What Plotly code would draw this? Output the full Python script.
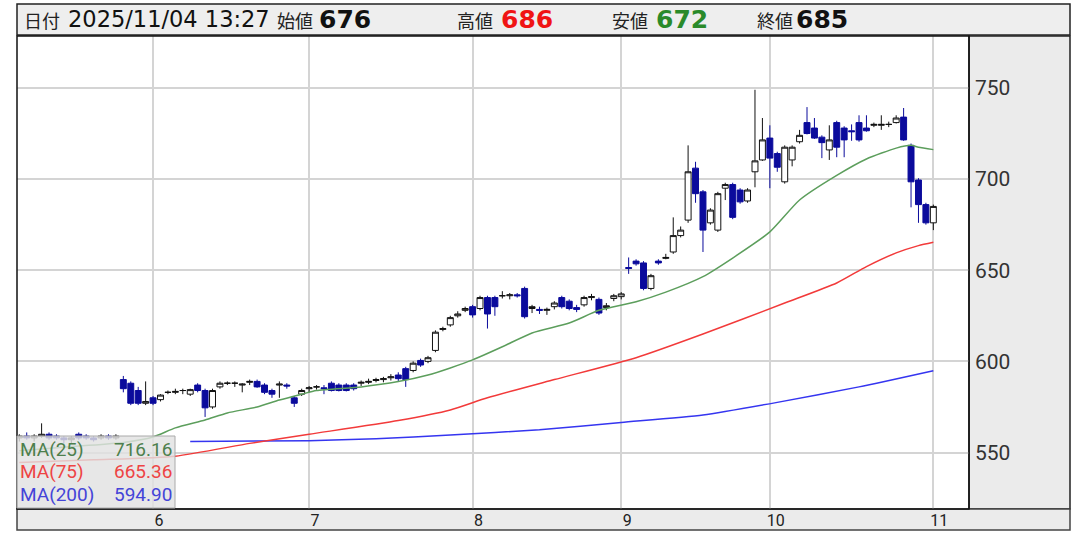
import plotly.graph_objects as go

W, H = 1079, 533

# ---------------- data ----------------
month_labels = ['6', '7', '8', '9', '10', '11']
month_start_idx = [18, 39, 61, 81, 101, 123]
y_ticks = [550, 600, 650, 700, 750]

opens = [558, 559, 558, 559, 560, 559, 558, 557, 560, 559, 558, 558, 559, 558,
         590, 588, 584, 577, 580, 579, 583, 583, 584, 582, 587, 584, 575, 586, 588, 588, 587, 588.5, 589, 587, 584, 587, 587, 580, 582,
         585, 586, 585.5, 588, 587, 587, 587, 588, 588.5, 589.5, 590, 591, 592.5, 596, 595, 600.5, 600, 606, 617.5, 620, 625, 628,
         630, 629, 635, 635, 636, 636, 636.5, 640, 629, 628.5, 628, 630, 635, 633, 629.5, 631, 635, 634, 629.5, 634.5,
         635.5, 651.5, 655, 654, 640, 655, 656.5, 660, 669, 677.5, 706, 693, 676, 672, 695, 697, 694, 688, 704, 710.5,
         722.5, 714, 698.5, 710.5, 720.5, 731, 728, 723, 716, 731, 728, 726.5, 731, 728, 729.5, 729.5, 730, 731, 734, 718.5, 699.5, 686,
         676]
highs = [560, 561, 560, 566, 561, 560, 559, 559, 561, 560, 559, 560, 560, 560,
         592, 589, 586, 589, 581, 582, 584, 585, 585, 585, 588, 585, 585, 589, 589, 589, 588, 590, 590, 588, 585, 589, 588, 581, 585,
         586.5, 587, 587, 589, 588, 588, 588, 589.5, 590.5, 591, 591.5, 593, 594, 597, 600, 601.5, 603, 617, 619, 625, 627.5, 630,
         631, 636, 636, 636, 638.5, 637.5, 637.5, 641, 631, 630, 629.5, 633, 636, 634, 631, 636, 637, 635, 632, 637,
         638, 657, 656, 655, 648, 656, 659, 679, 674, 718.5, 709.5, 694, 684, 693, 698, 698, 695, 695, 749, 733.5,
         729.5, 715, 718.5, 718.5, 727, 739.5, 733.5, 724, 729.5, 732, 729, 730, 735, 735, 731, 735, 731.5, 735, 739, 719.5, 700.5, 687,
         686]
lows = [556, 557, 556, 558, 557, 557, 555, 555, 557, 557, 556, 557, 557, 557,
        583, 576, 576, 576, 576, 578, 582, 582, 582, 581, 583, 569.5, 574, 585, 587, 586, 583, 587, 585.5, 582, 580, 580, 585, 575, 581,
        583, 584.5, 582, 583.5, 583.5, 583.5, 584, 586.5, 587.5, 588.5, 588.5, 589.5, 589, 586, 594, 597, 599, 605, 616.5, 619, 624, 627,
        624, 628, 618, 625, 634.5, 634, 635, 623.5, 626.5, 626, 625.5, 628.5, 629, 628, 627, 630, 633.5, 625.5, 628, 633,
        634, 648, 652.5, 639, 639, 653, 656, 659, 668, 676, 687, 660, 675, 671, 688.5, 678, 686.5, 687, 695.5, 710,
        695, 704, 697.5, 707, 719.5, 724.5, 722, 711.5, 710.5, 712, 712, 721, 720.5, 726, 728.5, 727, 728.5, 730.5, 721, 684.5, 676, 675,
        672]
closes = [559, 558, 559, 560, 558, 558, 557, 558, 558, 558, 557, 559, 558, 559,
          585, 577, 577, 578, 577, 581.5, 583, 583.5, 584, 584.5, 584, 574.5, 584, 588, 588, 588, 587.5, 589, 586, 583, 582, 587.5, 586.5, 577, 584,
          585.5, 586, 585, 584, 584, 584, 585, 588.5, 589, 590, 590.5, 591.5, 590.5, 590, 599, 598, 602, 616, 618, 624, 626, 629,
          625.5, 635, 626, 630, 636, 636.5, 636, 624.5, 630, 628, 628.5, 632, 630, 629, 628.5, 635, 635.5, 626.5, 630.5, 636,
          637, 651, 653.5, 640, 647, 654, 657, 669, 672, 704, 692, 672, 683, 692, 697, 679, 687.5, 694, 710, 721.5,
          711.5, 706.5, 717.5, 717.5, 724, 725, 722.5, 720, 721.5, 717.5, 721.5, 726, 721.5, 726.5, 730, 730, 730, 733.5, 721.5, 698.5, 686, 676,
          685]

ma25_idx = [0, 8, 14, 18, 21, 25, 28, 32, 35, 38, 40, 46, 51, 55, 58, 61, 65, 69, 74, 78, 83, 87, 92, 96, 101, 105, 110, 114, 118, 120, 121, 123]
ma25_val = [551, 553.5, 555.5, 558.5, 563.5, 567.8, 571.7, 575, 578.8, 582, 584, 586, 588.9, 592.5, 596.4, 600.8, 608, 615.6, 621, 628, 632.7, 638, 646.5, 656.7, 671, 688.5, 702, 711, 717, 718.5, 717.5, 716.16]

ma75_idx = [0, 10, 21, 31, 39, 51, 58, 63, 72, 83, 92, 103, 110, 114, 118, 121, 123]
ma75_val = [544.5, 546, 548, 555, 560, 567.5, 573.3, 580, 590, 602, 615, 632, 643, 652, 659.5, 663.5, 665.36]

ma200_idx = [23, 39, 48, 58, 70, 81, 92, 102, 113, 123]
ma200_val = [556, 556.5, 557.5, 559.6, 562.5, 566.5, 570.6, 577.5, 586, 594.9]

ma_names = ['MA(25)', 'MA(75)', 'MA(200)']
ma_last = ['716.16', '665.36', '594.90']

header_items = [('日付', '2025/11/04 13:27'), ('始値', '676'), ('高値', '686'), ('安値', '672'), ('終値', '685')]

# ---------------- helpers ----------------
def px(x):
    return x / W

def py(y):
    return 1 - y / H

idx = list(range(len(opens)))

GREEN_LINE = '#5c9e5c'
RED_LINE = '#f23a3a'
BLUE_LINE = '#3535f0'
CANDLE_BLUE = '#0b0b9c'

fig = go.Figure()

for xs, ys, col in [(ma200_idx, ma200_val, BLUE_LINE), (ma75_idx, ma75_val, RED_LINE), (ma25_idx, ma25_val, GREEN_LINE)]:
    fig.add_trace(go.Scatter(x=xs, y=ys, mode='lines', line=dict(color=col, width=1.5, shape='spline', smoothing=0.6),
                             hoverinfo='skip', showlegend=False))

fig.add_trace(go.Candlestick(
    x=idx, open=opens, high=highs, low=lows, close=closes,
    increasing=dict(line=dict(color='#111111', width=1), fillcolor='#ffffff'),
    decreasing=dict(line=dict(color=CANDLE_BLUE, width=1), fillcolor=CANDLE_BLUE),
    whiskerwidth=0, showlegend=False, hoverinfo='skip'))

shapes = [
    dict(type='rect', xref='paper', yref='paper', x0=px(17), x1=px(1070), y0=py(35), y1=py(4),
         fillcolor='#eeeeee', line=dict(color='#222222', width=1.5), layer='below'),
    dict(type='rect', xref='paper', yref='paper', x0=px(969), x1=px(1070), y0=py(509), y1=py(36),
         fillcolor='#ebebeb', line=dict(color='#222222', width=1.5), layer='below'),
    dict(type='rect', xref='paper', yref='paper', x0=px(17), x1=px(1070), y0=py(530), y1=py(509),
         fillcolor='#ebebeb', line=dict(color='#444444', width=1.5), layer='below'),
    dict(type='rect', xref='paper', yref='paper', x0=px(17), x1=px(969), y0=py(509), y1=py(36),
         line=dict(color='#111111', width=1.5), layer='above'),
    dict(type='rect', xref='paper', yref='paper', x0=px(17), x1=px(175), y0=py(508), y1=py(436),
         fillcolor='rgba(226,226,226,0.82)', line=dict(color='#aaaaaa', width=1), layer='above'),
]

annotations = []
# header
hx_label = [22, 275, 455, 610, 755]
hx_value = [66, 317, 499, 654, 794]
val_colors = ['#111111', '#111111', '#f01414', '#2a8a2a', '#111111']
for k, (lab, val) in enumerate(header_items):
    annotations.append(dict(x=px(hx_label[k]), y=py(20), xref='paper', yref='paper', text=lab, showarrow=False,
                            xanchor='left', yanchor='middle',
                            font=dict(family='Noto Sans CJK JP', size=18, color='#222222')))
    annotations.append(dict(x=px(hx_value[k]), y=py(19), xref='paper', yref='paper',
                            text=val if k == 0 else '<b>' + val + '</b>', showarrow=False,
                            xanchor='left', yanchor='middle',
                            font=dict(family='DejaVu Sans', size=22.5 if k == 0 else 25, color=val_colors[k])))

# MA legend
leg_colors = ['#4d7f4d', '#ee4444', '#4444d8']
leg_y = [449, 471, 494]
for k in range(3):
    annotations.append(dict(x=px(18), y=py(leg_y[k]), xref='paper', yref='paper', text=ma_names[k], showarrow=False,
                            xanchor='left', yanchor='middle', font=dict(family='Roboto', size=19, color=leg_colors[k])))
    annotations.append(dict(x=px(174), y=py(leg_y[k]), xref='paper', yref='paper', text=ma_last[k], showarrow=False,
                            xanchor='right', yanchor='middle', font=dict(family='Roboto', size=19, color=leg_colors[k])))

fig.update_layout(
    width=W, height=H, margin=dict(l=0, r=0, t=0, b=0, autoexpand=False),
    paper_bgcolor='white', plot_bgcolor='white', showlegend=False,
    boxgap=0.2, boxgroupgap=0,
    shapes=shapes, annotations=annotations,
    xaxis=dict(domain=[px(17), px(969)], range=[-0.31, 127.8], tickmode='array', automargin=False,
               tickvals=month_start_idx, ticktext=month_labels,
               showgrid=True, gridcolor='#d4d4d4', gridwidth=1.5, zeroline=False, ticks='',
               showline=False, rangeslider=dict(visible=False), ticklabelshift=6,
               tickfont=dict(family='Roboto', size=16, color='#222222')),
    yaxis=dict(domain=[py(509), py(36)], range=[519, 778.5], side='right', tickmode='array', automargin=False,
               tickvals=y_ticks, showgrid=True, gridcolor='#d4d4d4', gridwidth=1.5, zeroline=False,
               ticks='', showline=False, ticklabelstandoff=5,
               tickfont=dict(family='Roboto', size=21, color='#333333')),
)

fig.write_html('out.html', config={'displayModeBar': False},
               post_script="document.body.style.margin='0';document.body.style.overflow='hidden';")
